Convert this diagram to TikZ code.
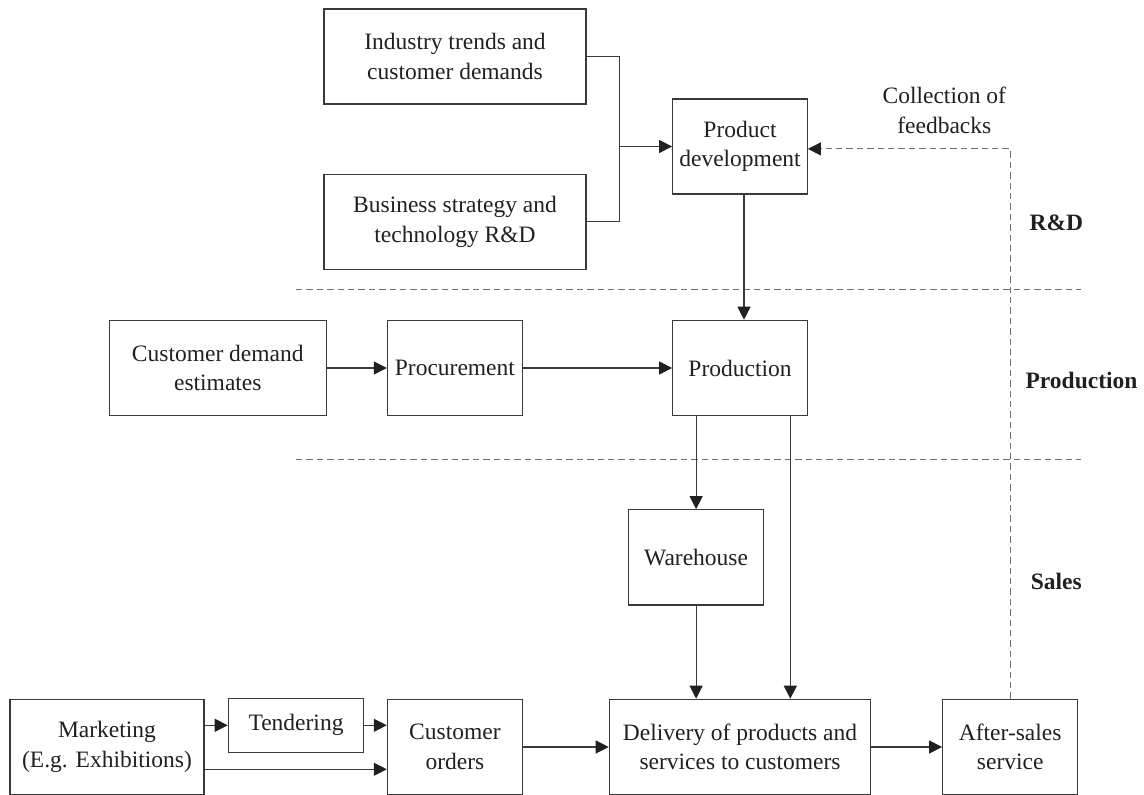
\documentclass[tikz,border=0pt]{standalone}
\usepackage{fontspec}
\setmainfont{Liberation Serif}
\usetikzlibrary{arrows.meta}
\definecolor{ink}{HTML}{231F20}
\definecolor{ln}{HTML}{3A3A3A}
\definecolor{dsh}{HTML}{707070}
\tikzset{
  box/.style={draw=ln, line width=0.6pt, rectangle, inner sep=0pt, align=center,
    text=ink, font=\fontsize{11.75pt}{14.7pt}\selectfont},
  lbl/.style={inner sep=0pt, align=center, text=ink, font=\fontsize{11.75pt}{14.7pt}\selectfont},
  zone/.style={inner sep=0pt, text=ink, font=\fontsize{11.75pt}{14.7pt}\selectfont\bfseries},
  conn/.style={draw=ln, line width=0.6pt},
  arr/.style={conn, -{Triangle[length=6.5pt,width=6.5pt,color=ink]}},
  sep/.style={draw=dsh, line width=0.6pt, dash pattern=on 3.2pt off 2pt},
  fb/.style={sep, -{Triangle[length=6.5pt,width=6.5pt,color=ink,fill=ink]}},
}
\begin{document}
\begin{tikzpicture}[x=0.5pt,y=-0.5pt]
\useasboundingbox (0,0) rectangle (1144,795);
% boxes
\node[box, minimum width=131pt, minimum height=47.5pt] (ind) at (455,56.5) {Industry trends and\\customer demands};
\node[box, minimum width=131pt, minimum height=47.5pt] (bus) at (455,221.7) {Business strategy and\\technology R\&D};
\node[box, minimum width=67.3pt, minimum height=47.5pt] (pd) at (740,146.5) {Product\\development};
\node[box, minimum width=108.5pt, minimum height=47.7pt] (cde) at (217.8,368) {Customer demand\\estimates};
\node[box, minimum width=67.5pt, minimum height=47.7pt] (proc) at (454.9,368) {Procurement};
\node[box, minimum width=67.3pt, minimum height=47.7pt] (prod) at (740,368) {Production};
\node[box, minimum width=67.4pt, minimum height=47.65pt] (wh) at (696.1,557.4) {Warehouse};
\node[box, minimum width=97pt, minimum height=47.7pt] (mkt) at (107,747) {Marketing\\(E.g. Exhibitions)};
\node[box, minimum width=67.7pt, minimum height=27pt] (tend) at (296,725.3) {Tendering};
\node[box, minimum width=67.5pt, minimum height=47.7pt] (co) at (454.9,747) {Customer\\orders};
\node[box, minimum width=130.7pt, minimum height=47.7pt] (del) at (740,747) {Delivery of products and\\services to customers};
\node[box, minimum width=67.5pt, minimum height=47.7pt] (as) at (1010.2,747) {After-sales\\service};
% labels
\node[lbl] (cof) at (944.3,110.3) {Collection of\\feedbacks};
\node[zone] (rd) at (1056.4,222.7) {R\&D};
\node[zone] (pz) at (1081.5,380) {Production};
\node[zone] (sz) at (1056.2,581.7) {Sales};
% separators
\coordinate (s1a) at (296,289.3); \coordinate (s1b) at (1081,289.3);
\coordinate (s2a) at (296,459.3); \coordinate (s2b) at (1081,459.3);
\draw[sep] (s1a) -- (s1b);
\draw[sep] (s2a) -- (s2b);
% connectors
\coordinate (j) at (619.3,146.5);
\draw[conn] (ind.east) -| (j) |- (bus.east);
\draw[arr] (j) -- (pd.west);
\draw[arr] ([xshift=2pt]pd.south) -- ([xshift=2pt]prod.north);
\draw[arr] (cde.east) -- (proc.west);
\draw[arr] (proc.east) -- (prod.west);
\draw[arr] (prod.south -| wh.north) -- (wh.north);
\coordinate (pr) at ([xshift=-8.8pt]prod.south east);
\draw[arr] (pr) -- (pr |- del.north);
\draw[arr] (wh.south) -- (wh.south |- del.north);
\draw[arr] (mkt.east |- tend.west) -- (tend.west);
\draw[arr] (tend.east) -- (co.west |- tend.east);
\draw[arr] ([yshift=-11.15pt]mkt.east) -- ([yshift=-11.15pt]co.west);
\draw[arr] (co.east) -- (del.west);
\draw[arr] (del.east) -- (as.west);
\draw[fb] (as.north) |- ([yshift=-1.2pt]pd.east);
\end{tikzpicture}
\end{document}
